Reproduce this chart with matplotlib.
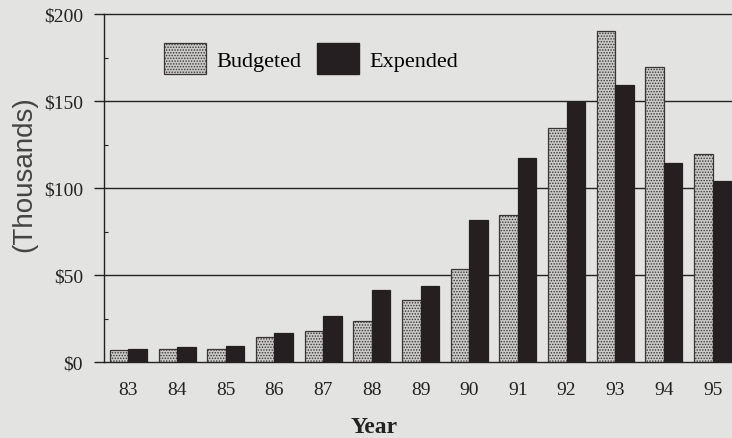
import matplotlib.pyplot as plt
from matplotlib.patches import Patch
import numpy as np

years = ["83", "84", "85", "86", "87", "88", "89", "90", "91", "92", "93", "94", "95"]
budgeted = [7, 7.6, 7.6, 14.5, 17.6, 23.5, 35.4, 53.5, 84.7, 134.6, 190, 169.8, 119.7]
expended = [7.3, 8.6, 9.2, 16.4, 26.2, 41.5, 43.4, 81.6, 117, 149.7, 159, 114.3, 104.2]
yticks = [0, 50, 100, 150, 200]
ytick_labels = ["$0", "$50", "$100", "$150", "$200"]

bg = "#e3e3e1"
dark = "#261f22"
light = "#cacac8"
serif = "Liberation Serif"
plt.rcParams["hatch.linewidth"] = 0.7

fig = plt.figure(figsize=(7.32, 4.39), dpi=100, facecolor=bg)
ax = fig.add_axes([104 / 732, 1 - 363 / 439, 633 / 732, 348 / 439])
ax.set_facecolor(bg)

x = np.arange(len(years))
w = 0.38
ax.bar(x - w / 2, budgeted, w, color=light, edgecolor="#3a3436",
       hatch="......", lw=0.9, zorder=3)
ax.bar(x + w / 2, expended, w, color=dark, edgecolor=dark, lw=0.9, zorder=3)

ax.set_xlim(-0.5, len(years) - 0.5)
ax.set_ylim(0, 200)
ax.set_yticks(yticks)
ax.set_yticklabels(ytick_labels, family=serif, fontsize=14)
ax.set_yticks([25, 75, 125, 175], minor=True)
ax.set_xticks(x)
ax.set_xticklabels(years, family=serif, fontsize=14)

for v in [50, 100, 150]:
    ax.axhline(v, color="#222", lw=1.0, zorder=1)

ax.tick_params(axis="y", which="major", direction="out", length=7, width=1, pad=8, colors="#222")
ax.tick_params(axis="y", which="minor", direction="in", length=3, width=0.8, color="#222")
ax.tick_params(axis="x", length=0, pad=14, colors="#222")
for s in ["left", "bottom", "top"]:
    ax.spines[s].set_color("#222")
    ax.spines[s].set_linewidth(1.0)
ax.spines["right"].set_visible(False)

handles = [Patch(facecolor=light, edgecolor="#3a3436", hatch="......", lw=0.9),
           Patch(facecolor=dark, edgecolor=dark)]
fig.legend(handles, ["Budgeted", "Expended"], loc="upper left",
           bbox_to_anchor=(164 / 732, 1 - 44 / 439), ncol=2, frameon=False,
           prop={"family": serif, "size": 16}, handlelength=1.9, handleheight=1.8,
           handletextpad=0.45, columnspacing=0.7, borderpad=0, borderaxespad=0)

fig.text(374 / 732, 1 - 428 / 439, "Year", family=serif, fontweight="bold",
         fontsize=17, ha="center", va="center", color="#222")
fig.text(24 / 732, 1 - 174 / 439, "(Thousands)", family="Liberation Sans",
         fontsize=20, rotation=90, ha="center", va="center", color="#444")

plt.savefig("out.png", dpi=100, facecolor=bg)
